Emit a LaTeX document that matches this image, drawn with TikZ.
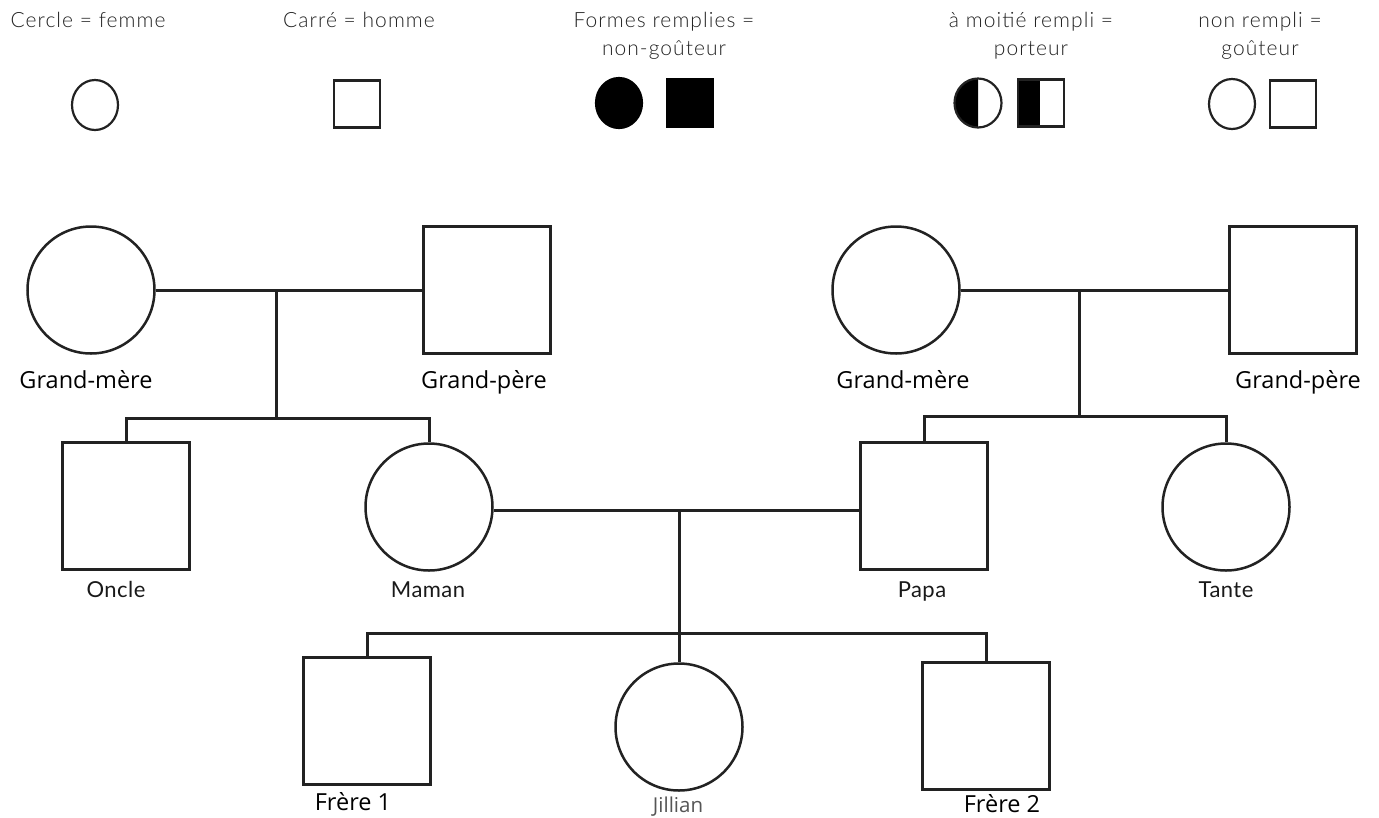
\documentclass[tikz,border=0pt]{standalone}
\usepackage{fontspec}
\setmainfont{Open Sans}
\newfontfamily\legfont{Lato Light}[LetterSpace=5]
\newfontfamily\namefont{Lato}[LetterSpace=2]
\usetikzlibrary{shapes.geometric}
\definecolor{ink}{HTML}{222222}
\definecolor{legtext}{HTML}{222222}
\definecolor{jgray}{HTML}{555555}
\begin{document}
\begin{tikzpicture}[x=1pt,y=-1pt,
  line width=2.5pt,
  fem/.style={circle,draw=ink,minimum size=127pt,inner sep=0pt,line width=2.5pt,fill=white},
  mal/.style={rectangle,draw=ink,minimum width=127pt,minimum height=127pt,inner sep=0pt,line width=2.5pt,fill=white},
  lfem/.style={ellipse,draw=ink,minimum width=46pt,minimum height=50pt,inner sep=0pt,line width=2.2pt},
  lmal/.style={rectangle,draw=ink,minimum width=46pt,minimum height=47pt,inner sep=0pt,line width=2.2pt},
  link/.style={draw=ink,line width=3pt},
  leg/.style={font=\legfont\fontsize{21}{26}\selectfont,text=legtext,anchor=base,inner sep=0pt,align=center},
  lab/.style={font=\fontsize{23.5}{28}\selectfont,text=black,anchor=base,inner sep=0pt},
  labn/.style={font=\namefont\fontsize{22}{28}\selectfont,text=black!90,anchor=base,inner sep=0pt},
]
\useasboundingbox (0,0) rectangle (1379,817);

% ---------- legend ----------
\node[leg] (t1) at (88,27) {Cercle = femme};
\node[leg] (t2) at (359,27) {Carré = homme};
\node[leg] (t3a) at (664,27) {Formes remplies =};
\node[leg] (t3b) at (664,55) {non-goûteur};
\node[leg] (t4a) at (1031,27) {à moitié rempli =};
\node[leg] (t4b) at (1031,55) {porteur};
\node[leg] (t5a) at (1260,27) {non rempli =};
\node[leg] (t5b) at (1260,55) {goûteur};

\node[lfem] (lc1) at (95,105) {};
\node[lmal] (ls1) at (357,104) {};
\node[lfem,fill=black,draw=black] (lc2) at (619,103) {};
\node[lmal,fill=black,draw=black] (ls2) at (690,103) {};
\begin{scope}
  \clip (945,70) rectangle (978,140);
  \fill[black] (978,103) ellipse[x radius=23.5pt,y radius=24.5pt];
\end{scope}
\node[lfem,minimum height=49pt,minimum width=47pt] (lc3) at (978,103) {};
\fill[black] (1018,80) rectangle (1040,126);
\node[lmal] (ls3) at (1041,103) {};
\node[lfem] (lc4) at (1232,104) {};
\node[lmal] (ls4) at (1293,104) {};

% ---------- pedigree ----------
\node[fem] (gm1) at (91,290) {};
\node[mal] (gp1) at (487,290) {};
\node[fem] (gm2) at (896,290) {};
\node[mal] (gp2) at (1293,290) {};
\node[mal] (oncle) at (126,506) {};
\node[fem] (maman) at (429,507) {};
\node[mal] (papa) at (924,506) {};
\node[fem] (tante) at (1226,507) {};
\node[mal] (fr1) at (367,721) {};
\node[fem] (jill) at (679,727) {};
\node[mal] (fr2) at (986,726) {};

\coordinate (m1) at (276,290);
\coordinate (c1) at (276,418);
\coordinate (b1l) at (126,418);
\coordinate (b1r) at (429,418);
\coordinate (m2) at (1079,290);
\coordinate (c2) at (1079,418);
\coordinate (b2l) at (924,416);
\coordinate (b2r) at (1226,416);
\coordinate (m3) at (679,510);
\coordinate (c3) at (679,633);
\coordinate (b3l) at (367,633);
\coordinate (b3r) at (986,633);

\draw[link] (gm1.east) -- (gp1.west);
\draw[link] (m1) -- (c1);
\draw[link,line join=miter] (oncle.north) -- (b1l) -- (b1r) -- (maman.north);

\draw[link] (gm2.east) -- (gp2.west);
\draw[link] (m2) -- (c2);
\draw[link,line join=miter] (papa.north) -- (b2l) -- (b2r) -- (tante.north);

\draw[link] (maman.east |- m3) -- (papa.west |- m3);
\draw[link] (m3) -- (c3);
\draw[link,line join=miter] (fr1.north) -- (b3l) -- (b3r) -- (fr2.north);
\draw[link] (c3) -- (jill.north);

% ---------- labels ----------
\node[lab] (lgm1) at (86,388) {Grand-mère};
\node[lab] (lgp1) at (484,388) {Grand-père};
\node[lab] (lgm2) at (903,388) {Grand-mère};
\node[lab] (lgp2) at (1298,388) {Grand-père};
\node[labn] (lon) at (116,597) {Oncle};
\node[labn] (lma) at (428,597) {Maman};
\node[labn] (lpa) at (922,597) {Papa};
\node[labn] (lta) at (1226,597) {Tante};
\node[lab] (lf1) at (353,810) {Frère 1};
\node[lab,font=\fontsize{20.5}{24}\selectfont,text=jgray] (lji) at (678,812) {Jillian};
\node[lab] (lf2) at (1002,812) {Frère 2};
\end{tikzpicture}
\end{document}
